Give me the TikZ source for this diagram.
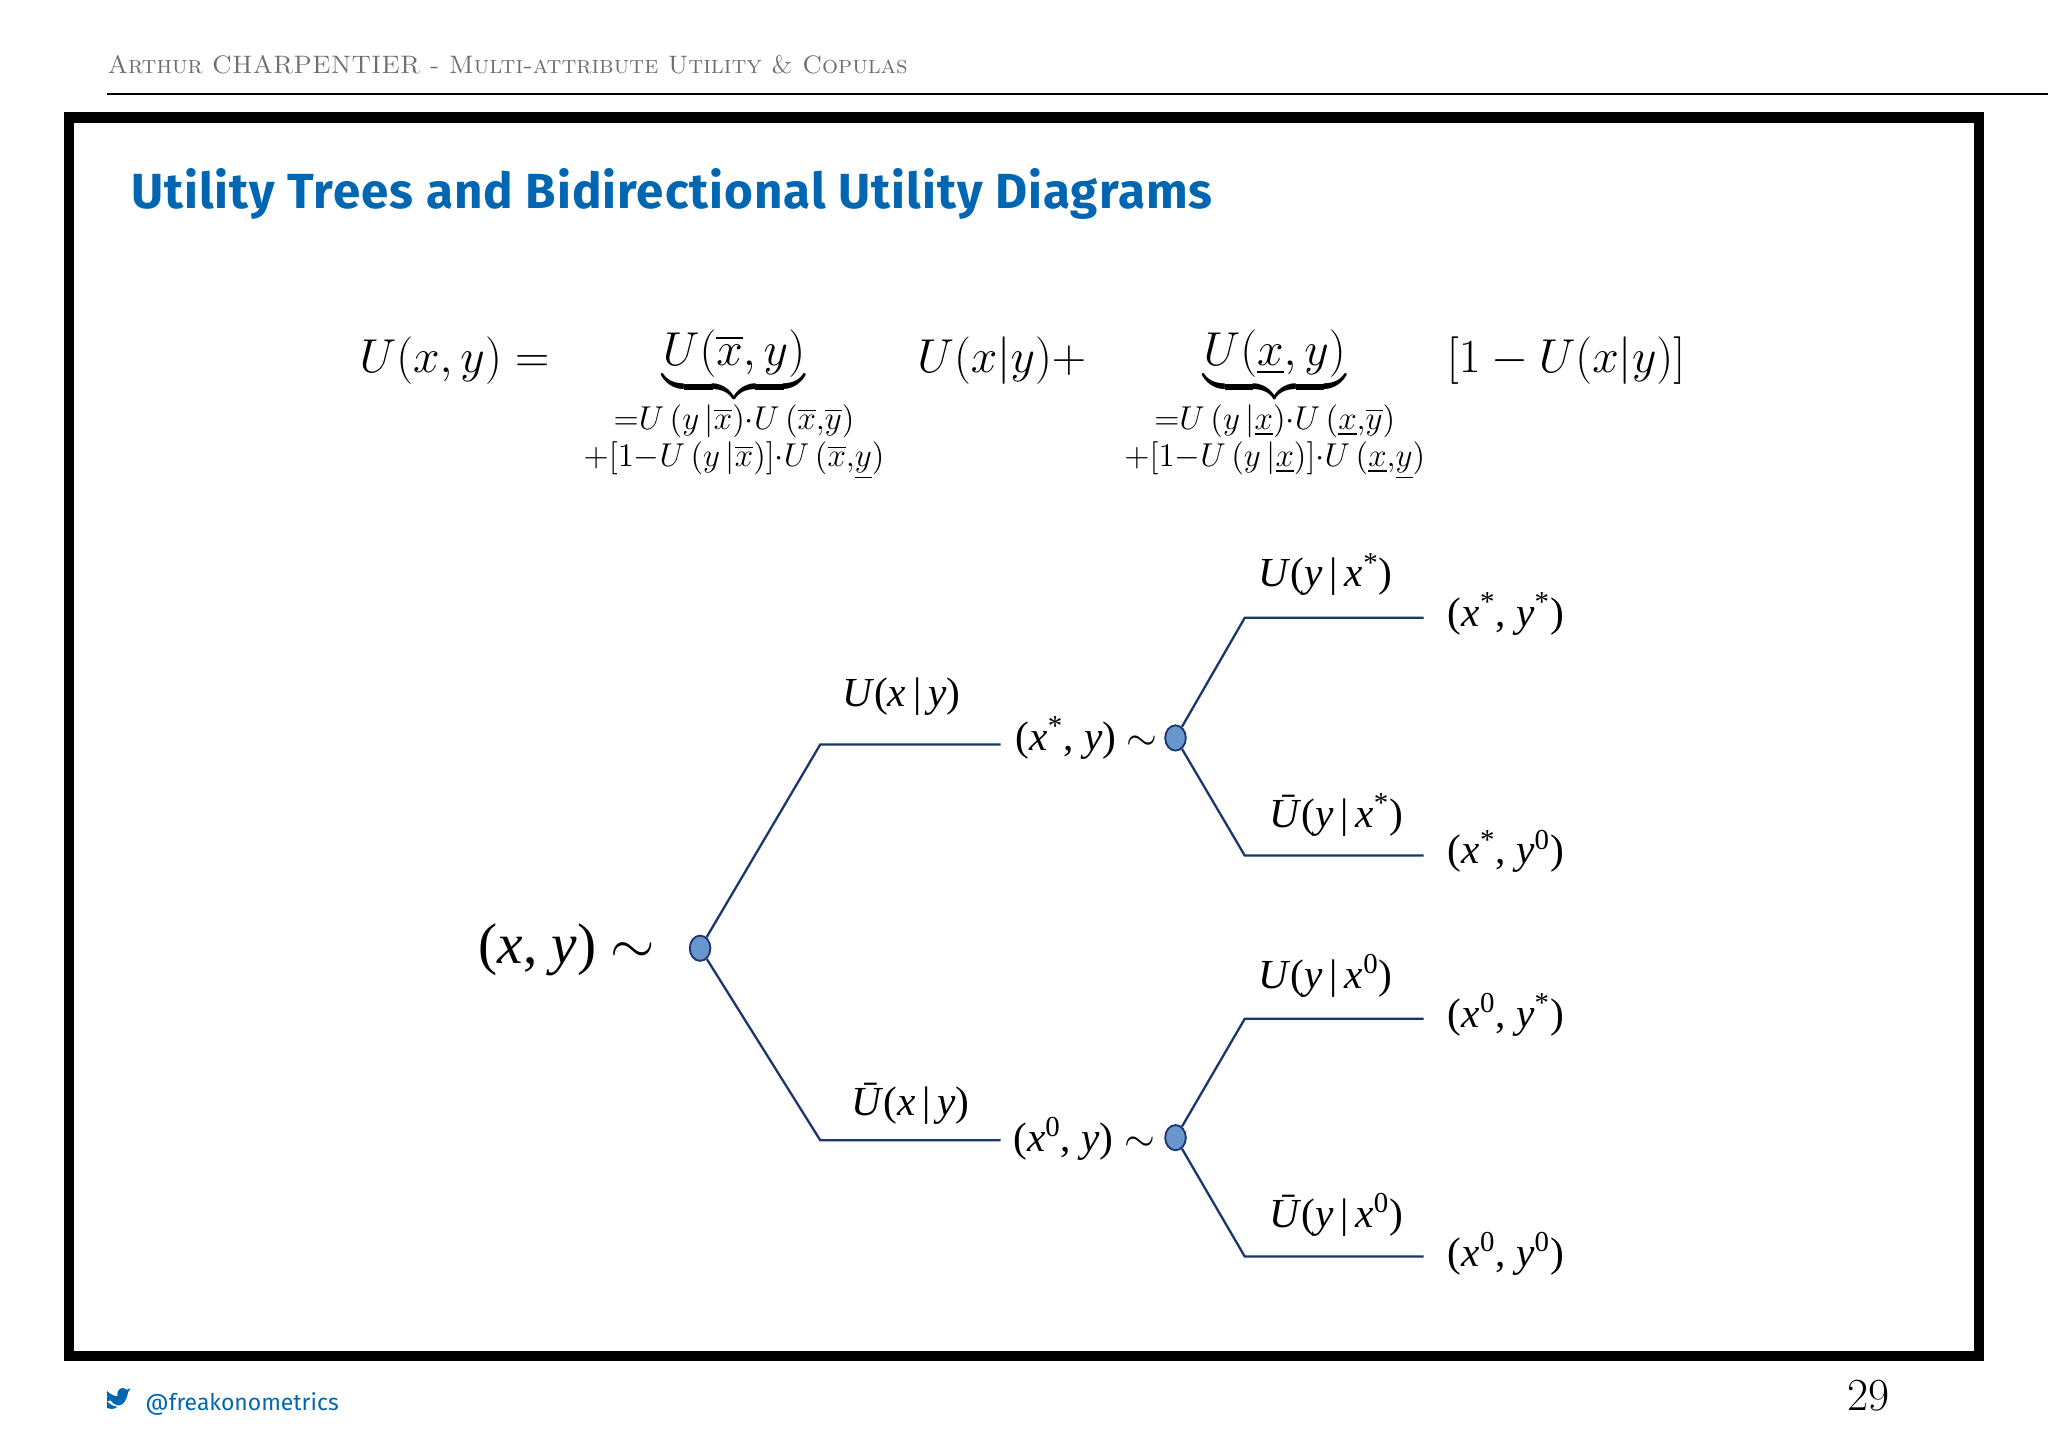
\documentclass[tikz,border=0pt]{standalone}
\usepackage{amsmath}
\usepackage{fontspec}
\newfontfamily\tms{Liberation Serif}
\newfontfamily\fsans{Fira Sans}
\definecolor{ttl}{RGB}{0,102,178}
\definecolor{ln}{RGB}{25,55,110}
\definecolor{dot}{RGB}{105,150,205}
\definecolor{hdr}{RGB}{110,110,110}
\tikzset{lbl/.style={inner sep=0pt,font=\tms\fontsize{18}{21}\selectfont},
 br/.style={line width=1pt,draw=ln},
 dotn/.style={ellipse,draw=ln,fill=dot,minimum width=9pt,minimum height=11pt,inner sep=0pt,line width=0.8pt}}
\usetikzlibrary{shapes.geometric}
\newcommand{\I}[1]{\textit{#1}}
\newcommand{\Ub}{\textit{\=U}}
\begin{document}
\begin{tikzpicture}[x=0.02cm,y=-0.02cm]
\useasboundingbox (0,0) rectangle (1568,1109);
\fill[white] (0,0) rectangle (1568,1109);
% header
\node[anchor=base west,inner sep=0pt,text=hdr,font=\fontsize{11}{13}\selectfont\scshape] (hd) at (82,56) {Arthur CHARPENTIER - Multi-attribute Utility \& Copulas};
\draw[line width=0.8pt] (82,72) -- (1568,72);
\draw[line width=4.5pt] (53,90) rectangle (1515,1038);
\node[anchor=base west,inner sep=0pt,text=ttl,font=\fsans\bfseries\fontsize{21.5}{24}\selectfont\addfontfeature{LetterSpace=2}] (title) at (100,160) {Utility Trees and Bidirectional Utility Diagrams};
% equation
\tikzset{eq/.style={inner sep=0pt,font=\fontsize{21}{25}\selectfont}}
\node[eq,anchor=base] (e1) at (348,285) {$U(x,y) =$};
\node[eq,anchor=north] (e2) at (562,252) {$\underbrace{U(\overline{x},y)}_{\substack{=U\,(y\,|\overline{x})\cdot U\,(\overline{x},\overline{y})\\+[1-U\,(y\,|\overline{x})]\cdot U\,(\overline{x},\underline{y})}}$};
\node[eq,anchor=base] (e3) at (767,285) {$U(x|y) +$};
\node[eq,anchor=north] (e4) at (976,252) {$\underbrace{U(\underline{x},y)}_{\substack{=U\,(y\,|\underline{x})\cdot U\,(\underline{x},\overline{y})\\+[1-U\,(y\,|\underline{x})]\cdot U\,(\underline{x},\underline{y})}}$};
\node[eq,anchor=base] (e5) at (1199,285) {$[1-U(x|y)]$};
% tree
\node[dotn] (r) at (536,726) {};
\node[dotn] (a) at (900,565) {};
\node[dotn] (b) at (900,871) {};
\coordinate (r1) at (628,570); \coordinate (r1e) at (766,570);
\coordinate (r2) at (628,873); \coordinate (r2e) at (766,873);
\coordinate (a1) at (953,473); \coordinate (a1e) at (1090,473);
\coordinate (a2) at (953,655); \coordinate (a2e) at (1090,655);
\coordinate (b1) at (953,780); \coordinate (b1e) at (1090,780);
\coordinate (b2) at (953,962); \coordinate (b2e) at (1090,962);
\draw[br] (r) -- (r1) -- (r1e);
\draw[br] (r) -- (r2) -- (r2e);
\draw[br] (a) -- (a1) -- (a1e);
\draw[br] (a) -- (a2) -- (a2e);
\draw[br] (b) -- (b1) -- (b1e);
\draw[br] (b) -- (b2) -- (b2e);
\node[lbl,font=\tms\fontsize{25}{30}\selectfont] (lr) at (434,727) {(\I{x}, \I{y}) $\sim$};
\node[lbl] (l1) at (690,533) {\I{U}(\I{x}\,|\,\I{y})};
\node[lbl] (l2) at (697,845) {\Ub(\I{x}\,|\,\I{y})};
\node[lbl] (la) at (832,565) {(\I{x}\textsuperscript{*}, \I{y}) $\sim$};
\node[lbl] (lb) at (830,872) {(\I{x}\textsuperscript{0}, \I{y}) $\sim$};
\node[lbl] (m1) at (1015,440) {\I{U}(\I{y}\,|\,\I{x}\textsuperscript{*})};
\node[lbl] (m2) at (1023,624) {\Ub(\I{y}\,|\,\I{x}\textsuperscript{*})};
\node[lbl] (m3) at (1015,747) {\I{U}(\I{y}\,|\,\I{x}\textsuperscript{0})};
\node[lbl] (m4) at (1023,930) {\Ub(\I{y}\,|\,\I{x}\textsuperscript{0})};
\node[lbl] (o1) at (1153,470) {(\I{x}\textsuperscript{*}, \I{y}\textsuperscript{*})};
\node[lbl] (o2) at (1153,652) {(\I{x}\textsuperscript{*}, \I{y}\textsuperscript{0})};
\node[lbl] (o3) at (1153,777) {(\I{x}\textsuperscript{0}, \I{y}\textsuperscript{*})};
\node[lbl] (o4) at (1153,960) {(\I{x}\textsuperscript{0}, \I{y}\textsuperscript{0})};
% footer
\fill[ttl] (82,1068) .. controls (88,1080) and (96,1078) .. (98,1066) -- (100,1063) -- (97,1064) .. controls (94,1061) and (89,1063) .. (90,1069) .. controls (87,1069) and (84,1067) .. (82,1065) .. controls (81,1069) and (83,1071) .. (85,1072) -- (82,1073) .. controls (85,1076) and (88,1077) .. (90,1077) .. controls (88,1079) and (85,1079) .. (82,1078) -- cycle;
\node[anchor=base west,inner sep=0pt,text=ttl,font=\fsans\fontsize{10}{12}\selectfont] (tw) at (111,1080) {@freakonometrics};
\node[anchor=base east,inner sep=0pt,font=\fontsize{20}{24}\selectfont] (pg) at (1447,1080) {29};
\end{tikzpicture}
\end{document}
